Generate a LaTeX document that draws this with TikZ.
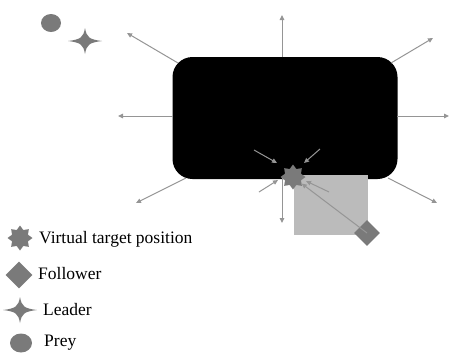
\documentclass[tikz,border=0pt]{standalone}
\usepackage{fontspec}
\setmainfont{Liberation Serif}
\usetikzlibrary{shapes.geometric,arrows.meta}
\definecolor{shapegray}{HTML}{7A7A7A}
\definecolor{arrowgray}{HTML}{959595}
\definecolor{boxgray}{HTML}{BBBBBB}
\tikzset{
  ray/.style={draw=arrowgray, line width=1pt, -{Triangle[length=5pt,width=4.5pt]}},
  vstar/.style={star, star points=8, star point ratio=1.45, fill=shapegray, inner sep=0pt, minimum size=#1},
  follower/.style={diamond, fill=shapegray, inner sep=0pt, minimum width=#1, minimum height=#1},
  prey/.style={ellipse, fill=shapegray, inner sep=0pt, minimum width=#1},
  legtext/.style={anchor=west, inner sep=0pt, font=\fontsize{17.5}{20}\selectfont},
  leaderpic/.pic={\fill[shapegray] (-17,0) .. controls (-4,-1.5) and (-1.5,-4) .. (0,-13) .. controls (1.5,-4) and (4,-1.5) .. (17,0) .. controls (4,1.5) and (1.5,4) .. (0,13) .. controls (-1.5,4) and (-4,1.5) .. cycle;}
}
\begin{document}
\begin{tikzpicture}[x=1pt,y=-1pt]
\useasboundingbox (0,0) rectangle (450,354);
% black region
\node[fill=black, rounded corners=20pt, minimum width=225pt, minimum height=122pt, inner sep=0pt] (blk) at (285,118) {};
% gray box
\node[fill=boxgray, minimum width=74pt, minimum height=60pt, inner sep=0pt] (gbox) at (331,204.5) {};
% radiating arrows
\coordinate (eT) at (282,15);
\coordinate (eTR) at (433,38);
\coordinate (eR) at (449,116);
\coordinate (eTL) at (127,33);
\coordinate (eL) at (118,116);
\coordinate (eBL) at (136,203);
\coordinate (eBR) at (437,203);
\coordinate (sT) at (282,57);
\coordinate (sTR) at (391,63);
\coordinate (sR) at (397,116);
\coordinate (sTL) at (178,63);
\coordinate (sL) at (173,116);
\coordinate (sBL) at (186,178);
\coordinate (sBR) at (388,178);
\draw[ray] (sT) -- (eT);
\draw[ray] (sTR) -- (eTR);
\draw[ray] (sR) -- (eR);
\draw[ray] (sTL) -- (eTL);
\draw[ray] (sL) -- (eL);
\draw[ray] (sBL) -- (eBL);
\draw[ray] (sBR) -- (eBR);
% follower and virtual target
\node[follower=26pt] (fol) at (367,233) {};
\node[vstar=25pt] (vt) at (293,177) {};
\draw[ray] (fol.center) -- (vt);
\coordinate (aUL) at (254,150);
\coordinate (aUR) at (320,149);
\coordinate (aLL) at (259,192);
\coordinate (aLR) at (329,192);
\coordinate (aD) at (282,223);
\draw[ray] (aUL) -- (277,163);
\draw[ray] (aUR) -- (304,163);
\draw[ray] (aLL) -- (278,180);
\draw[ray] (aLR) -- (306,181);
\draw[ray] (282,178) -- (aD);
% top-left prey and leader
\node[prey=20pt, minimum height=18pt] (py) at (51,23) {};
\pic (ld) at (85,41) {leaderpic};
% legend
\node[vstar=25pt] (lvt) at (20,238) {};
\node[legtext] (tvt) at (39,239) {Virtual target position};
\node[follower=27pt] (lfol) at (19,275) {};
\node[legtext] (tfol) at (38,274) {Follower};
\pic (lld) at (20,310) {leaderpic};
\node[legtext] (tld) at (43,310) {Leader};
\node[prey=22pt, minimum height=19pt] (lpy) at (21,343) {};
\node[legtext] (tpy) at (44,343) {Prey};
\end{tikzpicture}
\end{document}
